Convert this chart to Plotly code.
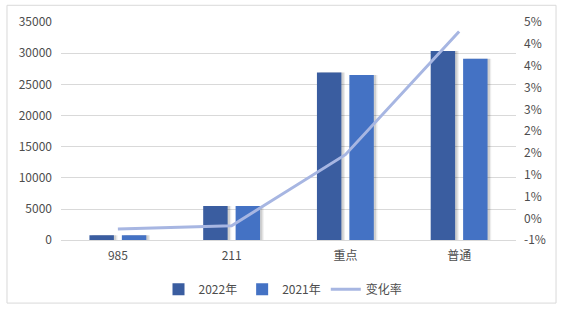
import plotly.graph_objects as go

categories = ["985", "211", "重点", "普通"]
values_2022 = [790, 5480, 26900, 30360]
values_2021 = [800, 5490, 26510, 29100]
change_rate = [-0.24, -0.17, 1.46, 4.28]  # percent

left_ticks = [0, 5000, 10000, 15000, 20000, 25000, 30000, 35000]
right_tickvals = [-0.5, 0, 0.5, 1, 1.5, 2, 2.5, 3, 3.5, 4, 4.5]
right_ticktext = ["-1%", "0%", "1%", "1%", "2%", "2%", "3%", "3%", "4%", "4%", "5%"]

C2022 = "#3A5DA0"
C2021 = "#4472C4"
CLINE = "#A7B6E2"
FONT = "Noto Sans CJK SC"
TXT = "#4D4D4D"

BW = 0.215
OFF22 = -0.25
OFF21 = 0.035

fig = go.Figure()
# soft shadows
for dx, a in [(0.032, 0.07), (0.02, 0.12)]:
    for vals, off in [(values_2022, OFF22), (values_2021, OFF21)]:
        fig.add_trace(go.Bar(x=categories, y=vals, width=BW, offset=off + dx,
                             marker=dict(color=f"rgba(0,0,0,{a})", line_width=0),
                             showlegend=False, hoverinfo="skip"))
fig.add_trace(go.Bar(x=categories, y=values_2022, name="2022年", width=BW, offset=OFF22,
                     marker=dict(color=C2022, line_width=0)))
fig.add_trace(go.Bar(x=categories, y=values_2021, name="2021年", width=BW, offset=OFF21,
                     marker=dict(color=C2021, line_width=0)))
fig.add_trace(go.Scatter(x=categories, y=change_rate, name="变化率", yaxis="y2",
                         mode="lines", line=dict(color=CLINE, width=3)))

fig.update_layout(
    width=566, height=316,
    margin=dict(l=61, r=50, t=22, b=72),
    paper_bgcolor="white", plot_bgcolor="white",
    barmode="overlay",
    font=dict(family=FONT, size=12, color=TXT),
    showlegend=True,
    legend=dict(orientation="h", xref="container", x=0.5, xanchor="center",
                yref="container", y=0.085, yanchor="middle",
                font=dict(family=FONT, size=12, color=TXT),
                itemwidth=30, tracegroupgap=0, bgcolor="rgba(0,0,0,0)"),
    xaxis=dict(showgrid=False, showline=True, linecolor="#D9D9D9", linewidth=1,
               ticks="", tickfont=dict(size=12, color=TXT), ticklabelstandoff=4),
    yaxis=dict(range=[0, 35000], tickvals=left_ticks, tickformat="d", showgrid=True,
               gridcolor="#D9D9D9", gridwidth=1, zeroline=False, showline=False, ticks="",
               tickfont=dict(size=12, color=TXT), ticklabelstandoff=8),
    yaxis2=dict(range=[-0.5, 4.5], overlaying="y", side="right", tickvals=right_tickvals,
                ticktext=right_ticktext, showgrid=False, zeroline=False, showline=False,
                ticks="", tickfont=dict(size=12, color=TXT), ticklabelstandoff=7),
    shapes=[dict(type="rect", xref="paper", yref="paper", x0=-0.1187, x1=1.088,
                 y0=-0.288, y1=1.0766, line=dict(color="#D9D9D9", width=1), layer="below")],
)

fig.write_html("out.html")
